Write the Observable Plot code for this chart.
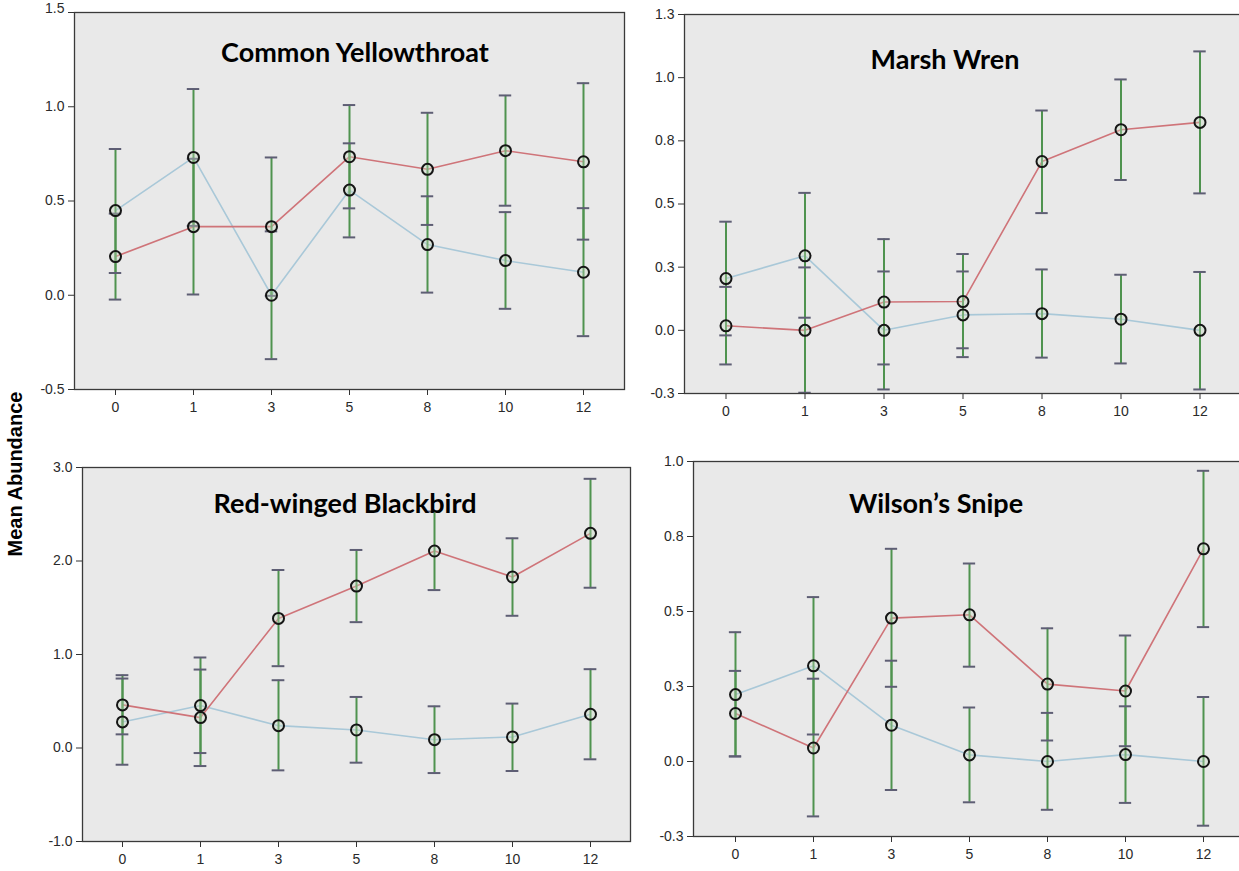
<!DOCTYPE html>
<html>
<head>
<meta charset="utf-8">
<script src="https://cdn.jsdelivr.net/npm/d3@7"></script>
<script src="https://cdn.jsdelivr.net/npm/@observablehq/plot@0.6"></script>
<style>
  html, body { margin: 0; padding: 0; background: #fff; overflow: hidden; }
  #root { position: relative; width: 1239px; height: 871px; overflow: hidden; }
  .panel { position: absolute; }
  .panel text { font-size: 14px !important; font-family: "Liberation Sans", Arial, sans-serif !important; fill: #2a2a2a; }
  .title { position: absolute; font-family: Lato, "Open Sans", sans-serif; font-weight: 700; font-size: 27px; color: #000; white-space: nowrap; transform: translateX(-50%); line-height: 1; }
  .ylab { position: absolute; font-family: "Liberation Sans", Arial, sans-serif; font-weight: 700; font-size: 20px; color: #000; white-space: nowrap; transform: translate(-50%, -50%) rotate(-90deg); }
</style>
</head>
<body>
<div id="root"></div>
<script>
// ---- Data ----
const visits = ["0", "1", "3", "5", "8", "10", "12"];

// Common Yellowthroat
const cyRedMean  = [0.205, 0.364, 0.364, 0.735, 0.668, 0.767, 0.708];
const cyRedLo    = [-0.023, 0.004, -0.003, 0.461, 0.373, 0.475, 0.295];
const cyRedHi    = [0.433, 0.724, 0.731, 1.009, 0.968, 1.060, 1.125];
const cyBlueMean = [0.449, 0.731, 0.000, 0.558, 0.269, 0.184, 0.122];
const cyBlueLo   = [0.118, 0.368, -0.339, 0.307, 0.014, -0.072, -0.217];
const cyBlueHi   = [0.776, 1.094, 0.339, 0.806, 0.525, 0.441, 0.462];
const cyTicks      = [-0.5, 0, 0.5, 1.0];
const cyTickLabels = ["-0.5", "0.0", "0.5", "1.0"];
const cyTopTick      = [1.5];
const cyTopTickLabel = ["1.5"];

// Marsh Wren
const mwRedMean  = [0.018, 0.000, 0.112, 0.114, 0.668, 0.794, 0.823];
const mwRedLo    = [-0.135, -0.247, -0.135, -0.071, 0.464, 0.595, 0.542];
const mwRedHi    = [0.172, 0.249, 0.361, 0.302, 0.870, 0.993, 1.104];
const mwBlueMean = [0.205, 0.295, 0.000, 0.061, 0.066, 0.044, 0.000];
const mwBlueLo   = [-0.020, 0.050, -0.234, -0.106, -0.108, -0.131, -0.234];
const mwBlueHi   = [0.430, 0.544, 0.233, 0.233, 0.241, 0.220, 0.231];
const mwTicks      = [-0.25, 0, 0.25, 0.5, 0.75, 1.0, 1.25];
const mwTickLabels = ["-0.3", "0.0", "0.3", "0.5", "0.8", "1.0", "1.3"];

// Red-winged Blackbird
const rbRedMean  = [0.461, 0.325, 1.386, 1.732, 2.107, 1.829, 2.296];
const rbRedLo    = [0.146, -0.193, 0.875, 1.346, 1.689, 1.414, 1.714];
const rbRedHi    = [0.779, 0.839, 1.904, 2.118, 2.529, 2.243, 2.879];
const rbBlueMean = [0.279, 0.454, 0.239, 0.193, 0.089, 0.118, 0.361];
const rbBlueLo   = [-0.179, -0.054, -0.239, -0.157, -0.268, -0.246, -0.121];
const rbBlueHi   = [0.743, 0.968, 0.725, 0.546, 0.446, 0.475, 0.843];
const rbTicks      = [-1, 0, 1, 2, 3];
const rbTickLabels = ["-1.0", "0.0", "1.0", "2.0", "3.0"];

// Wilson's Snipe
const wsRedMean  = [0.160, 0.045, 0.478, 0.489, 0.258, 0.235, 0.709];
const wsRedLo    = [0.017, -0.183, 0.249, 0.316, 0.070, 0.051, 0.448];
const wsRedHi    = [0.302, 0.276, 0.709, 0.660, 0.444, 0.420, 0.969];
const wsBlueMean = [0.223, 0.319, 0.121, 0.022, 0.000, 0.023, 0.000];
const wsBlueLo   = [0.017, 0.090, -0.095, -0.136, -0.161, -0.138, -0.214];
const wsBlueHi   = [0.431, 0.548, 0.336, 0.180, 0.162, 0.184, 0.215];
const wsTicks      = [-0.25, 0, 0.25, 0.5, 0.75, 1.0];
const wsTickLabels = ["-0.3", "0.0", "0.3", "0.5", "0.8", "1.0"];

const titles = ["Common Yellowthroat", "Marsh Wren", "Red-winged Blackbird", "Wilson\u2019s Snipe"];
const yAxisTitle = "Mean Abundance";

// ---- Styles ----
const RED = "#cf7479";
const BLUE = "#a9c8d8";
const GREEN = "#4f934f";
const CAP = "#5e5e74";
const FONT = "'Liberation Sans', Arial, sans-serif";

function rows(mean, lo, hi) {
  return visits.map((v, i) => ({visit: v, mean: mean[i], lo: lo[i], hi: hi[i]}));
}

function panel(cfg) {
  const red = rows(cfg.redMean, cfg.redLo, cfg.redHi);
  const blue = rows(cfg.blueMean, cfg.blueLo, cfg.blueHi);
  const innerW = cfg.width - cfg.ml - cfg.mr;
  const bw = innerW / visits.length;
  const capInset = (bw - 13) / 2;
  const labelFor = (ticks, labels) => (d) => labels[ticks.indexOf(d)];
  const marks = [
    Plot.frame({fill: "#e9e9e9"}),
    Plot.line(blue, {x: "visit", y: "mean", stroke: BLUE, strokeWidth: 1.6}),
    Plot.line(red, {x: "visit", y: "mean", stroke: RED, strokeWidth: 1.6}),
    Plot.ruleX(blue, {x: "visit", y1: "lo", y2: "hi", stroke: GREEN, strokeWidth: 2}),
    Plot.ruleX(red, {x: "visit", y1: "lo", y2: "hi", stroke: GREEN, strokeWidth: 2}),
    Plot.tickY(blue, {x: "visit", y: "lo", stroke: CAP, strokeWidth: 2, inset: capInset}),
    Plot.tickY(blue, {x: "visit", y: "hi", stroke: CAP, strokeWidth: 2, inset: capInset}),
    Plot.tickY(red, {x: "visit", y: "lo", stroke: CAP, strokeWidth: 2, inset: capInset}),
    Plot.tickY(red, {x: "visit", y: "hi", stroke: CAP, strokeWidth: 2, inset: capInset}),
    Plot.dot(blue, {x: "visit", y: "mean", r: 5.5, stroke: "#151515", strokeWidth: 2, fill: "#c9dcc3", fillOpacity: 0.35}),
    Plot.dot(red, {x: "visit", y: "mean", r: 5.5, stroke: "#151515", strokeWidth: 2, fill: "#c9dcc3", fillOpacity: 0.35}),
    Plot.axisY(cfg.ticks, {tickSize: 6, tickPadding: 4, tickFormat: labelFor(cfg.ticks, cfg.tickLabels), label: null, stroke: "#333"}),
    Plot.axisX({tickSize: 6, tickPadding: 7, label: null, stroke: "#333"}),
    Plot.frame({stroke: "#3a3a3a", strokeWidth: 1.3})
  ];
  if (cfg.topTick) {
    marks.push(Plot.axisY(cfg.topTick, {tickSize: 6, tickFormat: () => "", label: null, stroke: "#333"}));
    marks.push(Plot.axisY(cfg.topTick, {tickSize: 0, tickPadding: 10, dy: -4, tickFormat: labelFor(cfg.topTick, cfg.topTickLabel), label: null}));
  }
  const svg = Plot.plot({
    width: cfg.width,
    height: cfg.height,
    marginLeft: cfg.ml,
    marginRight: cfg.mr,
    marginTop: cfg.mt,
    marginBottom: cfg.mb,
    x: {type: "band", domain: visits, padding: 0, align: 0.5},
    y: {domain: cfg.domain},
    style: {fontFamily: FONT, fontSize: "14px", color: "#222", background: "transparent", overflow: "visible"},
    marks
  });
  svg.classList.add("panel");
  svg.style.left = cfg.left + "px";
  svg.style.top = cfg.top + "px";
  return svg;
}

const root = document.getElementById("root");

root.appendChild(panel({
  left: 0, top: 0, width: 626, height: 420, ml: 74, mr: 2, mt: 12, mb: 31,
  domain: [-0.5, 1.5], ticks: cyTicks, tickLabels: cyTickLabels, topTick: cyTopTick, topTickLabel: cyTopTickLabel,
  redMean: cyRedMean, redLo: cyRedLo, redHi: cyRedHi, blueMean: cyBlueMean, blueLo: cyBlueLo, blueHi: cyBlueHi
}));
root.appendChild(panel({
  left: 630, top: 0, width: 611, height: 425, ml: 54, mr: 0, mt: 14, mb: 32,
  domain: [-0.25, 1.25], ticks: mwTicks, tickLabels: mwTickLabels,
  redMean: mwRedMean, redLo: mwRedLo, redHi: mwRedHi, blueMean: mwBlueMean, blueLo: mwBlueLo, blueHi: mwBlueHi
}));
root.appendChild(panel({
  left: 0, top: 430, width: 631, height: 441, ml: 82, mr: 1, mt: 37, mb: 30,
  domain: [-1, 3], ticks: rbTicks, tickLabels: rbTickLabels,
  redMean: rbRedMean, redLo: rbRedLo, redHi: rbRedHi, blueMean: rbBlueMean, blueLo: rbBlueLo, blueHi: rbBlueHi
}));
root.appendChild(panel({
  left: 636, top: 430, width: 608, height: 441, ml: 57, mr: 0, mt: 31, mb: 35,
  domain: [-0.25, 1.0], ticks: wsTicks, tickLabels: wsTickLabels,
  redMean: wsRedMean, redLo: wsRedLo, redHi: wsRedHi, blueMean: wsBlueMean, blueLo: wsBlueLo, blueHi: wsBlueHi
}));

// Titles
const titlePos = [[355, 38], [945, 45], [345, 489], [936, 489]];
titles.forEach((t, i) => {
  const d = document.createElement("div");
  d.className = "title";
  d.textContent = t;
  d.style.left = titlePos[i][0] + "px";
  d.style.top = titlePos[i][1] + "px";
  root.appendChild(d);
});
const yl = document.createElement("div");
yl.className = "ylab";
yl.textContent = yAxisTitle;
yl.style.left = "15px";
yl.style.top = "474px";
root.appendChild(yl);
</script>
</body>
</html>
